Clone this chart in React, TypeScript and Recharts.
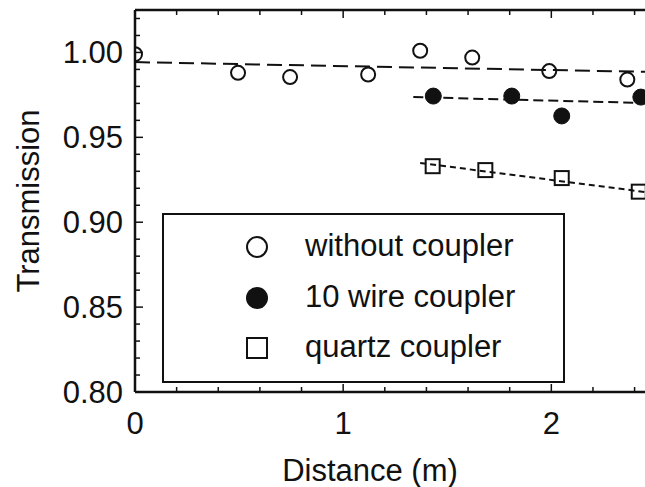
import React from 'react';
import { ScatterChart, Scatter, XAxis, YAxis, Legend } from 'recharts';

// measured points
const withoutX = [0, 0.495, 0.745, 1.12, 1.37, 1.62, 1.99, 2.365];
const withoutY = [0.999, 0.988, 0.9855, 0.987, 1.001, 0.997, 0.989, 0.984];
const wireX = [1.433, 1.81, 2.05, 2.43];
const wireY = [0.9743, 0.9743, 0.9626, 0.9737];
const quartzX = [1.43, 1.683, 2.05, 2.42];
const quartzY = [0.933, 0.9307, 0.926, 0.918];

// fitted lines (end points)
const withoutFitX = [0, 2.45];
const withoutFitY = [0.9943, 0.9886];
const wireFitX = [1.337, 2.45];
const wireFitY = [0.9737, 0.9702];
const quartzFitX = [1.37, 2.45];
const quartzFitY = [0.9349, 0.9178];

const xTicks = [0, 0.2, 0.4, 0.6, 0.8, 1, 1.2, 1.4, 1.6, 1.8, 2, 2.2, 2.4];
const yTicks = [
  0.8, 0.81, 0.82, 0.83, 0.84, 0.85, 0.86, 0.87, 0.88, 0.89, 0.9, 0.91,
  0.92, 0.93, 0.94, 0.95, 0.96, 0.97, 0.98, 0.99, 1.0, 1.01, 1.02,
];

const labels = ['without coupler', '10 wire coupler', 'quartz coupler'];

const INK = '#111';
const FONT = '"Liberation Sans", Arial, sans-serif';
const FS = 31;

const toPoints = (xs: number[], ys: number[]) => xs.map((x, i) => ({ x, y: ys[i] }));

const OpenCircle = (props: any) => (
  <circle cx={props.cx} cy={props.cy} r={7} fill="none" stroke={INK} strokeWidth={2} />
);
const FilledCircle = (props: any) => (
  <circle cx={props.cx} cy={props.cy} r={8} fill={INK} stroke={INK} strokeWidth={1} />
);
const OpenSquare = (props: any) => (
  <rect x={props.cx - 7} y={props.cy - 7} width={14} height={14} fill="none" stroke={INK} strokeWidth={2} />
);
const NoShape = () => <g />;

const isMajorX = (v: number) => Math.abs(v - Math.round(v)) < 1e-6;
const isMajorY = (v: number) => Math.round(v * 100) % 5 === 0;

const BottomTick = (props: any) => {
  const { x, y, payload } = props;
  const major = isMajorX(payload.value);
  return (
    <g>
      <line x1={x} y1={y} x2={x} y2={y - (major ? 8 : 5)} stroke={INK} strokeWidth={1.5} />
      {major && (
        <text x={x} y={y + 42} textAnchor="middle" fontSize={FS} fontFamily={FONT} fill={INK}>
          {payload.value}
        </text>
      )}
    </g>
  );
};

const TopTick = (props: any) => {
  const { x, y, payload } = props;
  const major = isMajorX(payload.value);
  return <line x1={x} y1={y} x2={x} y2={y + (major ? 8 : 5)} stroke={INK} strokeWidth={1.5} />;
};

const LeftTick = (props: any) => {
  const { x, y, payload } = props;
  const major = isMajorY(payload.value);
  return (
    <g>
      <line x1={x} y1={y} x2={x + (major ? 8 : 5)} y2={y} stroke={INK} strokeWidth={1.5} />
      {major && (
        <text x={x - 12} y={y + 11} textAnchor="end" fontSize={FS} fontFamily={FONT} fill={INK}>
          {payload.value.toFixed(2)}
        </text>
      )}
    </g>
  );
};

const markerIcon = (i: number) => {
  if (i === 0) return <circle cx={12} cy={12} r={10} fill="none" stroke={INK} strokeWidth={2} />;
  if (i === 1) return <circle cx={12} cy={12} r={11} fill={INK} />;
  return <rect x={2} y={2} width={20} height={20} fill="none" stroke={INK} strokeWidth={2} />;
};

const LegendBox = () => (
  <div
    style={{
      width: 403,
      height: 170,
      boxSizing: 'border-box',
      border: `2.5px solid ${INK}`,
      background: '#fff',
      position: 'relative',
      fontFamily: FONT,
      fontSize: FS,
      color: INK,
    }}
  >
    {labels.map((label, i) => (
      <div
        key={label}
        style={{ position: 'absolute', left: 0, top: 7 + i * 50.5, height: 50, width: '100%' }}
      >
        <svg width={24} height={24} style={{ position: 'absolute', left: 81, top: 13 }}>
          {markerIcon(i)}
        </svg>
        <span style={{ position: 'absolute', left: 141, top: 7, lineHeight: '34px', whiteSpace: 'nowrap' }}>
          {label}
        </span>
      </div>
    ))}
  </div>
);

export default function App() {
  return (
    <div style={{ position: 'absolute', left: 0, top: 0, width: 645, height: 487, background: '#fff' }}>
      <ScatterChart width={645} height={487} margin={{ top: 0, right: 0, bottom: 0, left: 0 }}>
        <XAxis
          type="number"
          dataKey="x"
          domain={[0, 2.45]}
          ticks={xTicks}
          interval={0}
          allowDataOverflow
          height={95}
          tickSize={0}
          tickMargin={0}
          tick={<BottomTick />}
          axisLine={{ stroke: INK, strokeWidth: 2.5 }}
          label={{
            value: 'Distance (m)',
            position: 'insideBottom',
            offset: 6,
            dx: -20,
            style: { fontSize: FS, fontFamily: FONT, fill: INK },
          }}
        />
        <XAxis
          xAxisId="top"
          orientation="top"
          type="number"
          dataKey="x"
          domain={[0, 2.45]}
          ticks={xTicks}
          interval={0}
          allowDataOverflow
          height={10}
          tickSize={0}
          tickMargin={0}
          tick={<TopTick />}
          axisLine={{ stroke: INK, strokeWidth: 2.5 }}
        />
        <YAxis
          type="number"
          dataKey="y"
          domain={[0.8, 1.025]}
          ticks={yTicks}
          interval={0}
          allowDataOverflow
          width={135}
          tickSize={0}
          tickMargin={0}
          tick={<LeftTick />}
          axisLine={{ stroke: INK, strokeWidth: 2.5 }}
          label={{
            value: 'Transmission',
            angle: -90,
            position: 'insideLeft',
            offset: 28,
            style: { fontSize: FS, fontFamily: FONT, fill: INK, textAnchor: 'middle' },
          }}
        />
        <Legend
          layout="vertical"
          align="center"
          verticalAlign="middle"
          content={<LegendBox />}
          wrapperStyle={{ left: 162, top: 213, width: 403, height: 170 }}
        />
        <Scatter
          name="without fit"
          data={toPoints(withoutFitX, withoutFitY)}
          shape={<NoShape />}
          line={{ stroke: INK, strokeWidth: 2, strokeDasharray: '15 7' }}
          legendType="none"
          isAnimationActive={false}
        />
        <Scatter
          name="wire fit"
          data={toPoints(wireFitX, wireFitY)}
          shape={<NoShape />}
          line={{ stroke: INK, strokeWidth: 2, strokeDasharray: '10 5' }}
          legendType="none"
          isAnimationActive={false}
        />
        <Scatter
          name="quartz fit"
          data={toPoints(quartzFitX, quartzFitY)}
          shape={<NoShape />}
          line={{ stroke: INK, strokeWidth: 2, strokeDasharray: '6 4' }}
          legendType="none"
          isAnimationActive={false}
        />
        <Scatter name={labels[0]} data={toPoints(withoutX, withoutY)} shape={<OpenCircle />} isAnimationActive={false} />
        <Scatter name={labels[1]} data={toPoints(wireX, wireY)} shape={<FilledCircle />} isAnimationActive={false} />
        <Scatter name={labels[2]} data={toPoints(quartzX, quartzY)} shape={<OpenSquare />} isAnimationActive={false} />
      </ScatterChart>
    </div>
  );
}
